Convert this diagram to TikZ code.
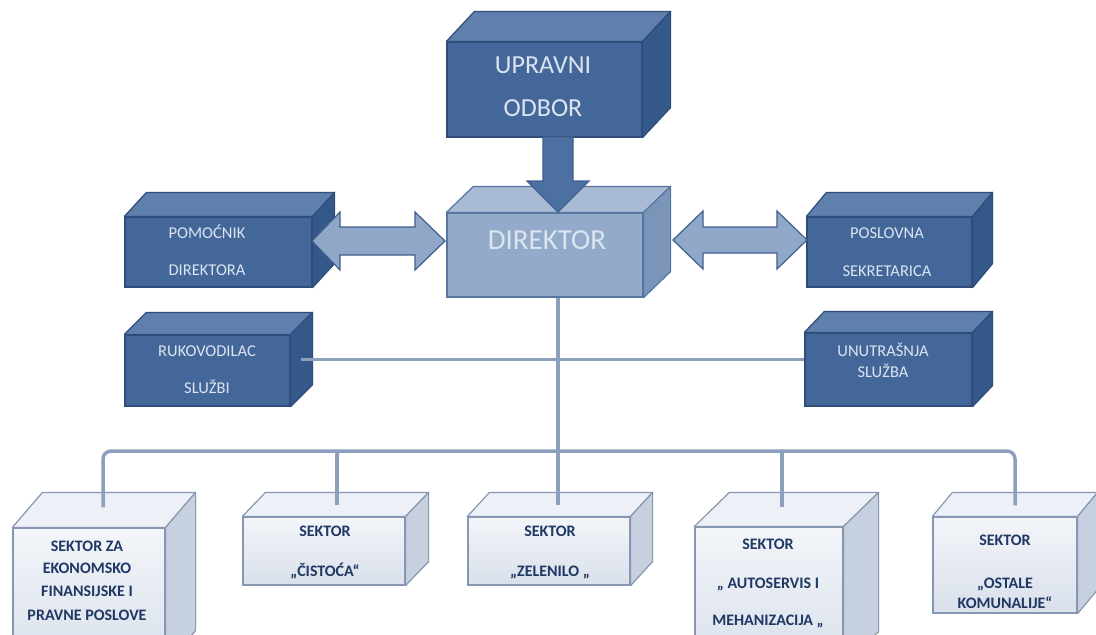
\documentclass[tikz,border=0pt]{standalone}
\usepackage{fontspec}
\setmainfont{Carlito}
\usetikzlibrary{calc}
\definecolor{dfront}{HTML}{44679A}
\definecolor{dtop}{HTML}{5F80AD}
\definecolor{dside}{HTML}{35588A}
\definecolor{dline}{HTML}{2E4D7A}
\definecolor{mfront}{HTML}{93AACA}
\definecolor{mtop}{HTML}{A8BAD4}
\definecolor{mside}{HTML}{7A94BA}
\definecolor{mline}{HTML}{5676A2}
\definecolor{lfront}{HTML}{D9E0EB}
\definecolor{lfronttop}{HTML}{F3F5F9}
\definecolor{ltop}{HTML}{EDF0F6}
\definecolor{lside}{HTML}{C6D0DF}
\definecolor{lline}{HTML}{8797B2}
\definecolor{connc}{HTML}{8C9FBC}
\definecolor{arrfill}{HTML}{90A7C8}
\definecolor{arrline}{HTML}{3F5F8E}
\definecolor{downfill}{HTML}{4C70A1}
\definecolor{ltext}{HTML}{DCE4EF}
\definecolor{navy}{HTML}{1F3864}
\newcommand{\tdbox}[6]{%
  \filldraw[fill=#2,draw=#4,line width=1.2pt,line join=round] (#1.north west) -- ++(#5,#6) -- ([shift={(#5,#6)}]#1.north east) -- (#1.north east) -- cycle;
  \filldraw[fill=#3,draw=#4,line width=1.2pt,line join=round] (#1.north east) -- ++(#5,#6) -- ([shift={(#5,#6)}]#1.south east) -- (#1.south east) -- cycle;}
\begin{document}
\begin{tikzpicture}[x=1pt,y=-1pt,
  dbox/.style={draw=dline, fill=dfront, line width=1.2pt, inner sep=0pt},
  mbox/.style={draw=mline, fill=mfront, line width=1.2pt, inner sep=0pt},
  lbox/.style={draw=lline, top color=lfronttop, bottom color=lfront, line width=1.2pt, inner sep=0pt},
  wtxt/.style={inner sep=0pt, text height=0.64em, text depth=0pt, text=ltext, font=\fontsize{16.5}{19}\selectfont},
  btxt/.style={inner sep=0pt, text height=0.64em, text depth=0pt, text=navy, font=\bfseries\fontsize{16}{19}\selectfont},
  conn/.style={draw=connc, line width=3.5pt},
  blockarr/.style={fill=arrfill, draw=arrline, line width=1.2pt, line join=miter}]
\useasboundingbox (0,0) rectangle (1096,635);
\clip (0,0) rectangle (1096,635);
\fill[white] (0,0) rectangle (1096,635);

% top boxes
\node[dbox, minimum width=195pt, minimum height=95pt] (upr) at (544.5,89.5) {};
\tdbox{upr}{dtop}{dside}{dline}{28}{-30}
\node[wtxt, font=\fontsize{26}{30}\selectfont] (uprA) at (543,70) {UPRAVNI};
\node[wtxt, font=\fontsize{26}{30}\selectfont] (uprB) at (543,113) {ODBOR};

\node[mbox, minimum width=196pt, minimum height=84pt] (dir) at (545,255) {};
\tdbox{dir}{mtop}{mside}{mline}{27}{-26}
\node[wtxt, font=\fontsize{29}{33}\selectfont] (dirA) at (547,246) {DIREKTOR};

\node[dbox, minimum width=187pt, minimum height=70pt] (pom) at (218.5,252) {};
\tdbox{pom}{dtop}{dside}{dline}{22}{-24}
\node[wtxt] (pomA) at (207,235) {POMOĆNIK};
\node[wtxt] (pomB) at (207,272) {DIREKTORA};

\node[dbox, minimum width=165pt, minimum height=70pt] (pos) at (889.5,252) {};
\tdbox{pos}{dtop}{dside}{dline}{20}{-24}
\node[wtxt] (posA) at (887,235) {POSLOVNA};
\node[wtxt] (posB) at (887,273) {SEKRETARICA};

\node[dbox, minimum width=165pt, minimum height=71pt] (ruk) at (207.5,370.5) {};
\tdbox{ruk}{dtop}{dside}{dline}{22}{-22}
\node[wtxt] (rukA) at (207,353) {RUKOVODILAC};
\node[wtxt] (rukB) at (207,390) {SLUŽBI};

\node[dbox, minimum width=167pt, minimum height=73pt] (unu) at (888.5,369.5) {};
\tdbox{unu}{dtop}{dside}{dline}{20}{-21}
\node[wtxt] (unuA) at (883,353) {UNUTRAŠNJA};
\node[wtxt] (unuB) at (883,374) {SLUŽBA};

% sectors
\node[lbox, minimum width=152pt, minimum height=137pt] (s1) at (89,596.5) {};
\tdbox{s1}{ltop}{lside}{lline}{30}{-35}
\node[btxt] (s1a) at (87,548) {SEKTOR ZA};
\node[btxt] (s1b) at (87,570) {EKONOMSKO};
\node[btxt] (s1c) at (87,593) {FINANSIJSKE I};
\node[btxt] (s1d) at (87,617) {PRAVNE POSLOVE};

\node[lbox, minimum width=162pt, minimum height=68pt] (s2) at (324,551) {};
\tdbox{s2}{ltop}{lside}{lline}{23}{-24}
\node[btxt] (s2a) at (325,533) {SEKTOR};
\node[btxt] (s2b) at (325,573) {„ČISTOĆA“};

\node[lbox, minimum width=162pt, minimum height=68pt] (s3) at (549,551) {};
\tdbox{s3}{ltop}{lside}{lline}{22}{-24}
\node[btxt] (s3a) at (550,533) {SEKTOR};
\node[btxt] (s3b) at (550,573) {„ZELENILO „};

\node[lbox, minimum width=148pt, minimum height=138pt] (s4) at (769,596) {};
\tdbox{s4}{ltop}{lside}{lline}{35}{-34}
\node[btxt] (s4a) at (768,546) {SEKTOR};
\node[btxt] (s4b) at (768,585) {„ AUTOSERVIS I};
\node[btxt] (s4c) at (768,622) {MEHANIZACIJA „};

\node[lbox, minimum width=144pt, minimum height=96pt] (s5) at (1005,565) {};
\tdbox{s5}{ltop}{lside}{lline}{20}{-24}
\node[btxt] (s5a) at (1005,542) {SEKTOR};
\node[btxt] (s5b) at (1005,585) {„OSTALE};
\node[btxt] (s5c) at (1005,605) {KOMUNALIJE“};

% connectors
\coordinate (s1t) at ([shift={(14,-20)}]s1.north);
\coordinate (s2t) at ([shift={(13,-11)}]s2.north);
\coordinate (s3t) at ([shift={(9,-11)}]s3.north);
\coordinate (s4t) at ([shift={(13,-19)}]s4.north);
\coordinate (s5t) at ([shift={(10,-11)}]s5.north);
\coordinate (bus) at (558,451);
\draw[conn, rounded corners=8pt] (s1t) -- (s1t |- bus) -- (s5t |- bus) -- (s5t);
\draw[conn] (s2t) -- (s2t |- bus);
\draw[conn] (s4t) -- (s4t |- bus);
\draw[conn] (s3t) -- (s3t |- dir.south);
\coordinate (rk) at ([shift={(10,-11)}]ruk.east);
\draw[conn] (rk) -- (rk -| unu.west);

% block arrows
\filldraw[fill=downfill, draw=arrline, line width=1.2pt, line join=miter]
  (543,137) -- (543,181) -- (527,181) -- (558,212) -- (589,181) -- (573,181) -- (573,137) -- cycle;
\filldraw[blockarr] (312,241) -- (340,212) -- (340,227) -- (415,227) -- (415,212) -- (445,241)
  -- (415,270) -- (415,255) -- (340,255) -- (340,270) -- cycle;
\filldraw[blockarr] (673,240) -- (703,211) -- (703,227) -- (777,227) -- (777,211) -- (807,240)
  -- (777,269) -- (777,253) -- (703,253) -- (703,269) -- cycle;
\end{tikzpicture}
\end{document}
